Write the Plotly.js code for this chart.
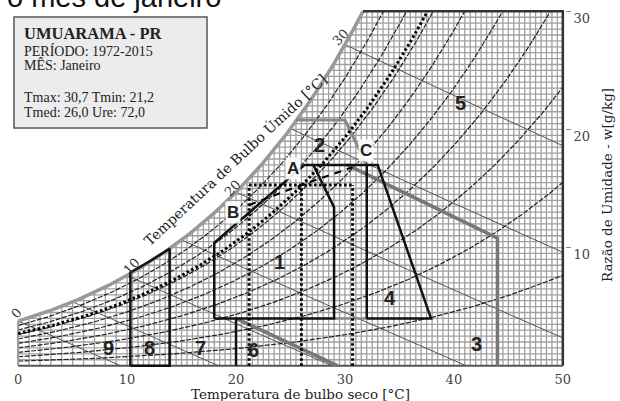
<!DOCTYPE html>
<html><head><meta charset="utf-8">
<script src="https://cdn.plot.ly/plotly-3.0.1.min.js"></script>
<style>html,body{margin:0;padding:0;background:#fff;}#chart{width:620px;height:401px;}</style>
</head><body><div id="chart"></div>
<script>
// ---- station data ----
const station = "UMUARAMA - PR";
const period = "1972-2015";
const month = "Janeiro";
const tMax = 30.7, tMin = 21.2, tMed = 26.0, ure = 72.0;
const wMed = 15.3;               // humidity ratio at Tmed / Ure
// day line points
const dayLabels = ["B", "A", "C"];
const dayT = [21.2, 26.0, 30.7];
const dayW = [13.6, 15.3, 16.8];
// chart scales
const rhLevels = [10, 20, 30, 40, 50, 60, 70, 80, 90];
const wetBulbLevels = [0, 5, 10, 15, 20, 25, 30, 35];
const wetBulbTickLabels = ["0", "10", "20", "30"];
const xTicks = [0, 10, 20, 30, 40, 50];
const yTicks = [10, 20, 30];
// bioclimatic zones (vertices)
const zone1T = [18, 18, 20, 22, 24, 26.3, 27.1, 29, 29, 18];
const zone1W = [4, 10.4, 12.0, 13.6, 15.2, 17.0, 17.0, 13.4, 4, 4];
const zoneTopT = [27.1, 32];
const zoneTopW = [17, 17];
const zone2T = [25.5, 30.0, 32.0];
const zone2W = [20.8, 20.8, 17.0];
const zone2bT = [29, 32];
const zone2bW = [4, 4];
const zone3T = [30.2, 44, 44];
const zone3W = [17, 10.8, 0];
const zone3bT = [20, 29.3];
const zone3bW = [4, 0];
const zone4T = [32, 32, 33, 37.9, 32];
const zone4W = [4, 17, 17, 4, 4];
const zone6T = [20, 20];
const zone6W = [0, 4];
const zone8T = [10.3, 10.3, 12, 13.9, 13.9, 10.3];
const zone8W = [0, 7.9, 8.8, 9.9, 0, 0];
const zoneNames = ["1","2","3","4","5","6","7","8","9"];

// ---- psychrometric helpers ----
const P = 101.325, W_TOP = 30, T_END = 50;
const psat = T => 0.61078 * Math.exp(17.27 * T / (T + 237.3));
const wOf = (T, rh) => { const pv = rh * psat(T); return 622 * pv / (P - pv); };
function bisect(f, lo, hi) { for (let i = 0; i < 60; i++) { const m = (lo + hi) / 2; if (f(lo) * f(m) <= 0) hi = m; else lo = m; } return (lo + hi) / 2; }
const tSatOf = w => bisect(T => wOf(T, 1) - w, -30, 70);
function wbW(T, tw) { const ws = wOf(tw, 1) / 1000; return 1000 * ((2501 - 2.326 * tw) * ws - 1.006 * (T - tw)) / (2501 + 1.86 * T - 4.186 * tw); }

function rhCurve(rh) {
  const xs = [], ys = [];
  for (let T = 0; T <= T_END + 1e-9; T += 0.25) {
    const w = wOf(T, rh);
    if (w > W_TOP) { const tc = bisect(t => wOf(t, rh) - W_TOP, T - 0.25, T); xs.push(tc); ys.push(W_TOP); break; }
    xs.push(T); ys.push(w);
  }
  return [xs, ys];
}
function wbCurve(tw) {
  let t0 = tw;
  if (wOf(tw, 1) > W_TOP) t0 = bisect(t => wbW(t, tw) - W_TOP, tw, 80);
  let t1 = Math.min(T_END, bisect(t => wbW(t, tw), tw, 120));
  const xs = [], ys = [];
  for (let T = t0; T < t1; T += 0.25) { xs.push(T); ys.push(wbW(T, tw)); }
  xs.push(t1); ys.push(Math.max(0, wbW(t1, tw)));
  return [xs, ys];
}

const traces = [];
const line = (x, y, color, width, dash) => traces.push({x, y, type: 'scatter', mode: 'lines', line: {color, width, dash: dash || 'solid'}, hoverinfo: 'skip'});

// grid
const gx = [], gy = [];
for (let i = 0; i <= 100; i++) { const T = i * 0.5; if (T < 10 && i % 2) continue; gx.push(T, T, null); gy.push(0, Math.min(wOf(T, 1), W_TOP), null); }
for (let j = 1; j <= 60; j++) { const w = j * 0.5; gx.push(Math.max(0, tSatOf(w)), T_END, null); gy.push(w, w, null); }
line(gx, gy, '#a0a0a0', 1.3);

// wet bulb lines
wetBulbLevels.forEach(tw => { const [x, y] = wbCurve(tw); line(x, y, '#555', 1); });
// RH curves
rhLevels.forEach(r => { const [x, y] = rhCurve(r / 100); line(x, y, '#222', 1.2, '5px,1.5px'); });
// saturation
{ const [x, y] = rhCurve(1); line(x, y, '#999', 3.5); }
// borders
line([tSatOf(W_TOP), T_END, T_END], [W_TOP, W_TOP, 0], '#333', 2.5);
line([0, T_END], [0, 0], '#555', 2);
line([0, 0], [0, wOf(0, 1)], '#999', 2);

// zones
line(zone2T, zone2W, '#888', 3);
line(zone2bT, zone2bW, '#888', 2.5);
line(zone3T, zone3W, '#777', 3.5);
line(zone3bT, zone3bW, '#777', 3.5);
line(zone1T, zone1W, '#111', 2.5);
line(zoneTopT, zoneTopW, '#111', 2.5);
line(zone4T, zone4W, '#111', 2.5);
line(zone6T, zone6W, '#111', 2.5);
line(zone8T, zone8W, '#111', 2.5);

// Ure curve (dotted)
{ const [x, y] = rhCurve(ure / 100); line(x, y, '#000', 3, '2.5px,2.5px'); }
// Tmin / Tmed / Tmax dotted lines
line([tMin, tMin, null, tMed, tMed, null, tMax, tMax], [0, wMed, null, 0, wMed, null, 0, wMed], '#000', 3, '2.5px,2.5px');
line([tMin, tMax], [wMed, wMed], '#000', 3, '2.5px,2.5px');
// day line
line(dayT, dayW, '#000', 2, '7px,6px');

// ---- annotations ----
const fmt = v => v.toFixed(1).replace('.', ',');
const px = v => (v - 16) / 549, py = v => (368 - v) / 359;
const ann = [];
const A = o => ann.push(Object.assign({showarrow: false, xanchor: 'center', yanchor: 'middle'}, o));
const serif = 'Liberation Serif, Times New Roman, serif';
A({xref: 'paper', yref: 'paper', x: px(5), y: py(-3), xanchor: 'left', text: 'o mês de janeiro', font: {family: 'Liberation Sans, Arial', size: 29, color: '#111'}});
const boxLines = [
  ['<b>' + station + '</b>', 33.5, 16.5],
  ['PERÍODO: ' + period, 51.5, 14],
  ['MÊS: ' + month, 65.5, 14],
  ['Tmax: ' + fmt(tMax) + ' Tmin: ' + fmt(tMin), 97.5, 14],
  ['Tmed: ' + fmt(tMed) + ' Ure: ' + fmt(ure), 112, 14]
];
boxLines.forEach(([t, y, s]) => A({xref: 'paper', yref: 'paper', x: px(22), y: py(y), xanchor: 'left', text: t, font: {family: serif, size: s, color: '#222'}}));
// wet bulb tick labels on the curve
[[16, 313], [131, 266], [232, 188], [340, 37]].forEach((p, i) => A({xref: 'paper', yref: 'paper', x: px(p[0]), y: py(p[1]), text: wetBulbTickLabels[i], textangle: -48, font: {family: 'DejaVu Serif, serif', size: 13, color: '#333'}}));
A({xref: 'paper', yref: 'paper', x: px(235), y: py(159), text: 'Temperatura de Bulbo Úmido [°C]', textangle: -43, font: {family: 'DejaVu Serif, serif', size: 14, color: '#222'}});
// axis titles
A({xref: 'paper', yref: 'paper', x: px(300), y: py(394), text: 'Temperatura de bulbo seco [°C]', font: {family: 'DejaVu Serif, serif', size: 13.5, color: '#222'}});
A({xref: 'paper', yref: 'paper', x: px(607), y: py(185), text: 'Razão de Umidade - w[g/kg]', textangle: -90, font: {family: 'DejaVu Serif, serif', size: 13.5, color: '#222'}});
// zone labels
const zonePos = [[24.0, 8.8], [27.7, 18.7], [42.1, 1.8], [34.1, 5.7], [40.6, 22.2], [21.6, 1.35], [16.7, 1.5], [12.1, 1.5], [8.3, 1.5]];
zoneNames.forEach((n, i) => A({x: zonePos[i][0], y: zonePos[i][1], text: '<b>' + n + '</b>', font: {family: 'Liberation Sans, Arial', size: 20, color: '#222'}}));
const letterPos = [[19.7, 13.0], [25.2, 16.7], [31.9, 18.2]];
dayLabels.forEach((n, i) => A({x: letterPos[i][0], y: letterPos[i][1], text: '<b>' + n + '</b>', bgcolor: 'rgba(255,255,255,0.9)', borderpad: 1, font: {family: 'Liberation Sans, Arial', size: 17, color: '#222'}}));

const layout = {
  width: 620, height: 401,
  margin: {l: 16, r: 55, t: 9, b: 33},
  paper_bgcolor: '#fff', plot_bgcolor: '#fff',
  showlegend: false, hovermode: false,
  xaxis: {range: [-0.2, 50.2], tickvals: xTicks, ticktext: xTicks.map(String), showgrid: false, zeroline: false, showline: false, ticks: '', ticklabelstandoff: 2, tickfont: {family: 'DejaVu Serif, serif', size: 13, color: '#444'}},
  yaxis: {range: [-0.2, 30.2], side: 'right', tickvals: yTicks, ticktext: yTicks.map(String), showgrid: false, zeroline: false, showline: false, ticks: 'outside', ticklen: 5, tickwidth: 1.5, tickcolor: '#888', ticklabelshift: 7, tickfont: {family: 'DejaVu Serif, serif', size: 13, color: '#444'}},
  shapes: [{type: 'rect', xref: 'paper', yref: 'paper', x0: px(14), x1: px(207), y0: py(128), y1: py(17), fillcolor: '#ececec', line: {color: '#555', width: 1.5}, layer: 'above'}],
  annotations: ann
};
Plotly.newPlot('chart', traces, layout, {staticPlot: true, displayModeBar: false});
</script></body></html>
